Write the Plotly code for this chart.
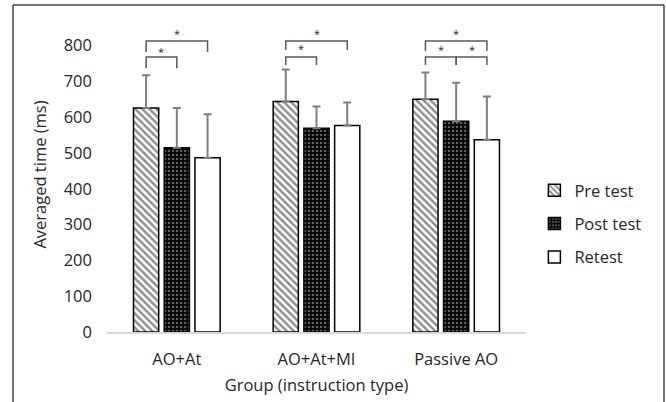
import plotly.graph_objects as go

groups = ["AO+At", "AO+At+MI", "Passive AO"]
series_names = ["Pre test", "Post test", "Retest"]
pre_vals = [626, 644, 650]
post_vals = [515, 569, 589]
re_vals = [487, 577, 537]
pre_err = [91, 89, 75]
post_err = [111, 61, 107]
re_err = [121, 64, 121]
y_ticks = [0, 100, 200, 300, 400, 500, 600, 700, 800]

# significance brackets: (group index, from series, to series, bar-level, left drop, right drop, star level)
brackets = [
    (0, 0, 2, 813, 782, 782, 833),
    (0, 0, 1, 768, 737, 737, 785),
    (1, 0, 2, 813, 788, 788, 833),
    (1, 0, 1, 768, 746, 746, 793),
    (2, 0, 2, 813, 785, 785, 833),
    (2, 0, 1, 768, 746, 746, 788),
    (2, 1, 2, 768, 746, 746, 788),
]

BARGAP = 0.34
BARGROUPGAP = 0.18
slot = (1 - BARGAP) / 3

text_col = "#262626"
err_col = "#7f7f7f"
FS = 16.5

fig = go.Figure()
styles = [
    dict(color="white", pattern=dict(shape="\\", fgcolor="#222222", bgcolor="white", size=5, solidity=0.5)),
    dict(color="black", pattern=dict(shape=".", fgcolor="#bbbbbb", bgcolor="black", size=4, solidity=0.35)),
    dict(color="white"),
]
vals = [pre_vals, post_vals, re_vals]
errs = [pre_err, post_err, re_err]
for i, name in enumerate(series_names):
    fig.add_trace(go.Bar(
        x=groups, y=vals[i], name=name, legendgroup=name,
        marker=dict(**styles[i], line=dict(color="black", width=1.5)),
        error_y=dict(type="data", symmetric=False, array=errs[i], arrayminus=[0]*3,
                     color=err_col, thickness=2, width=4),
    ))

for g, a, b, top, dl, dr, star in brackets:
    xa = g + (a - 1) * slot
    xb = g + (b - 1) * slot
    fig.add_shape(type="path", xref="x", yref="y",
                  path=f"M {xa},{dl} L {xa},{top} L {xb},{top} L {xb},{dr}",
                  line=dict(color="#595959", width=1.5))
    fig.add_annotation(x=(xa + xb) / 2, y=star, xref="x", yref="y", text="*",
                       showarrow=False, yanchor="middle",
                       font=dict(size=11, color="#1f2a44", family="Open Sans"))

# outer frame (no bottom edge)
for x0, y0, x1, y1 in [(13, 5, 13, 402), (13, 5, 664, 5), (664, 5, 664, 402)]:
    fig.add_shape(type="line", xref="paper", yref="paper",
                  x0=(x0 - 107) / 419, x1=(x1 - 107) / 419,
                  y0=(331.7 - y0) / 314.6, y1=(331.7 - y1) / 314.6,
                  line=dict(color="#444444", width=1.5))

fig.update_layout(
    width=666, height=402,
    margin=dict(l=107, r=140, t=17, b=70.3, autoexpand=False),
    paper_bgcolor="white", plot_bgcolor="white",
    barmode="group", bargap=BARGAP, bargroupgap=BARGROUPGAP,
    font=dict(family="Open Sans", size=FS, color=text_col),
    showlegend=True,
    legend=dict(x=1.02, y=0.505, xanchor="left", yanchor="top",
                tracegroupgap=9, font=dict(size=FS, color=text_col),
                itemwidth=30),
    xaxis=dict(showline=True, linecolor="#d9d9d9", linewidth=1.5, ticks="",
               ticklabelstandoff=11, showgrid=False, automargin=False,
               title=dict(text="Group (instruction type)", standoff=11,
                          font=dict(size=FS, color=text_col))),
    yaxis=dict(range=[0, 880], tickvals=y_ticks, showgrid=False, showline=False,
               zeroline=False, ticks="", ticklabelstandoff=14, automargin=False,
               title=dict(text="Averaged time (ms)", standoff=12,
                          font=dict(size=FS, color=text_col))),
)

fig.write_html("out.html")
